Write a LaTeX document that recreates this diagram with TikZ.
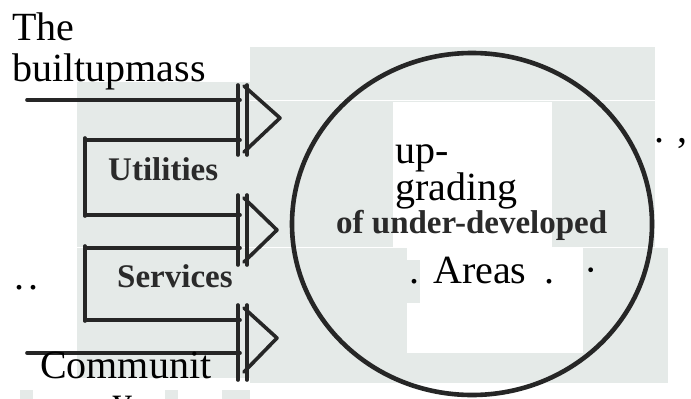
\documentclass[tikz,border=0pt]{standalone}
\usepackage{fontspec}
\usetikzlibrary{shapes.geometric}
\setmainfont{Liberation Serif}
\definecolor{scangrey}{HTML}{E5EAE8}
\definecolor{inkgrey}{HTML}{2A2A2A}
\tikzset{
  big/.style={inner sep=0pt, anchor=base west, font=\fontsize{40}{42}\selectfont},
  boldlbl/.style={inner sep=0pt, anchor=base west, text=inkgrey, font=\fontsize{33}{35}\selectfont\bfseries},
  ink/.style={line width=3.6pt, black!85, line cap=round, line join=round},
  bg/.style={fill=scangrey, draw=none},
  wh/.style={fill=white, draw=none}
}
\begin{document}
\begin{tikzpicture}[x=1pt,y=-1pt]
\useasboundingbox (0,0) rectangle (691,399);
% scanned background
\fill[bg] (77,82) rectangle (250,378);
\fill[bg] (250,47) rectangle (655,247);
\fill[bg] (250,247) rectangle (668,383);
\fill[wh] (393,102) rectangle (552,247);
\fill[wh] (407,247) rectangle (583,353);
\fill[bg] (407,260) rectangle (420,303);
\fill[bg] (20,390) rectangle (33,399);
\fill[bg] (165,390) rectangle (178,399);
\fill[bg] (222,390) rectangle (250,399);
\draw[white, line width=0.8pt] (250,100) -- (691,100);
\draw[white, line width=0.8pt] (77,247) -- (691,247);
% circle
\node[draw=black!85, line width=4.6pt, ellipse, minimum width=360pt, minimum height=342pt, inner sep=0pt] (area) at (472,224) {};
% arrow 1
\coordinate (a1s) at (27,100);
\coordinate (a1e) at (240,100);
\draw[ink] (a1s) -- (a1e);
\draw[ink] (85,140) -- (240,140);
\draw[ink] (238,85) -- (238,155);
\draw[ink] (247,85) -- (247,155);
\draw[ink] (244,86) -- (280,118) -- (244,152);
% box Utilities
\draw[ink] (85,138) -- (85,216);
% arrow 2
\draw[ink] (85,215) -- (240,215);
\draw[ink] (85,248) -- (240,248);
\draw[ink] (238,195) -- (238,265);
\draw[ink] (247,195) -- (247,265);
\draw[ink] (244,198) -- (277,230) -- (244,262);
% box Services
\draw[ink] (85,246) -- (85,321);
% arrow 3
\draw[ink] (85,320) -- (240,320);
\draw[ink] (27,353) -- (240,353);
\draw[ink] (238,305) -- (238,380);
\draw[ink] (247,305) -- (247,380);
\draw[ink] (244,308) -- (277,338) -- (244,372);
% texts
\node[big] (the) at (12,40) {The};
\node[big] (built) at (12,81) {builtupmass};
\node[boldlbl] (util) at (108,180) {Utilities};
\node[boldlbl] (serv) at (117,287) {Services};
\node[big] (up) at (395,163) {up-};
\node[big] (grad) at (395,200) {grading};
\node[boldlbl] (under) at (336,233) {of under-developed};
\node[big] (areas) at (433,283) {Areas};
\node[big] (d1) at (409,283) {.};
\node[big] (d2) at (544,283) {.};
\node[big] (d3) at (584,283) {·};
\node[big] (tr) at (654,142) {. ,};
\node[big] (l1) at (14,289) {.};
\node[big] (l2) at (28,289) {.};
\node[big] (comm) at (40,378) {Communit};
\begin{scope}
\clip (0,0) rectangle (691,399);
\node[big] (ylet) at (112,414) {y};
\end{scope}
\end{tikzpicture}
\end{document}
